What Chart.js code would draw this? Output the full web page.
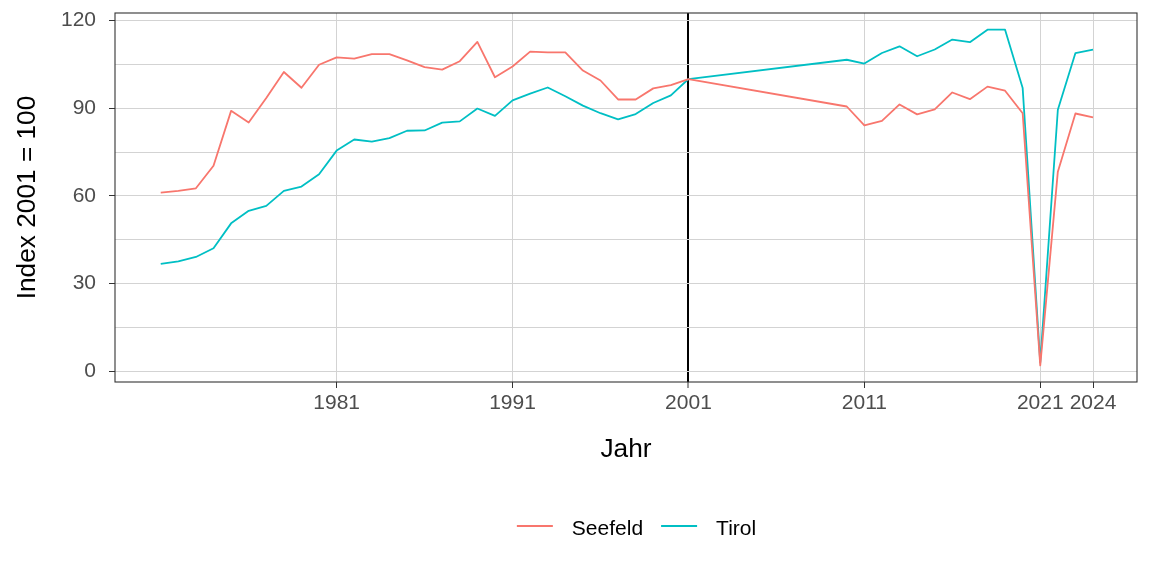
<!DOCTYPE html>
<html>
<head>
<meta charset="utf-8">
<script src="https://cdn.jsdelivr.net/npm/chart.js@4.4.1/dist/chart.umd.min.js"></script>
<style>
html,body{margin:0;padding:0;background:#ffffff;}
#wrap{width:1152px;height:576px;position:relative;}
</style>
</head>
<body>
<div id="wrap"><canvas id="c"></canvas></div>
<script>
// ---- data ----
const years = [1971,1972,1973,1974,1975,1976,1977,1978,1979,1980,
               1981,1982,1983,1984,1985,1986,1987,1988,1989,1990,
               1991,1992,1993,1994,1995,1996,1997,1998,1999,2000,2001,
               2010,2011,2012,2013,2014,2015,2016,2017,2018,2019,2020,2021,2022,2023,2024];
const seefeld = [61.1,61.7,62.6,70.3,89.1,85.1,93.5,102.4,97.0,104.9,
                 107.4,107.0,108.5,108.5,106.4,104.1,103.2,106.1,112.7,100.6,
                 104.3,109.4,109.1,109.1,102.9,99.5,93.0,93.0,96.8,97.9,100,
                 90.6,84.1,85.7,91.3,87.9,89.6,95.4,93.1,97.4,96.0,88.3,2.0,68.3,88.2,86.9];
const tirol = [36.7,37.6,39.1,42.1,50.6,54.9,56.6,61.7,63.2,67.4,
               75.5,79.3,78.6,79.8,82.3,82.4,85.1,85.5,89.9,87.4,
               92.7,95.0,97.1,94.1,90.9,88.3,86.2,88.0,91.8,94.4,100,
               106.6,105.3,108.9,111.2,107.8,110.1,113.5,112.6,116.9,116.9,96.9,3.0,89.5,108.9,110.1];
const seriesNames = ['Seefeld','Tirol'];
const xTicks = [1981,1991,2001,2011,2021,2024];
const yMajorTicks = [0,30,60,90,120];
const yMinorTicks = [15,45,75,105];
const refYear = 2001;
const xTitle = 'Jahr';
const yTitle = 'Index 2001 = 100';

// ---- styling ----
const FONT = "'Liberation Sans', Arial, Helvetica, sans-serif";
const colors = ['#F8766D', '#00BFC4'];
const gridColor = '#d3d3d3';
const darkGrey = '#333333';
Chart.defaults.font.family = FONT;

const toPoints = (vals) => years.map((y, i) => ({x: y, y: vals[i]}));

const panelBorder = {
  id: 'panelBorder',
  afterDatasetsDraw(chart) {
    const {ctx, chartArea: a} = chart;
    ctx.save();
    ctx.strokeStyle = darkGrey;
    ctx.lineWidth = 1.1;
    ctx.strokeRect(a.left, a.top, a.right - a.left, a.bottom - a.top);
    ctx.restore();
  }
};

const bottomLegend = {
  id: 'bottomLegend',
  afterDraw(chart) {
    const ctx = chart.ctx;
    const ds = chart.data.datasets;
    ctx.save();
    ctx.font = '21px ' + FONT;
    const keyW = 36, keyGap = 19, itemGap = 18;
    let total = 0;
    ds.forEach((d, i) => {
      total += keyW + keyGap + ctx.measureText(d.label).width;
      if (i < ds.length - 1) total += itemGap;
    });
    const cx = (chart.chartArea.left + chart.chartArea.right) / 2 + 10.5;
    let x = cx - total / 2;
    const lineY = 526, textY = 535;
    ds.forEach((d) => {
      ctx.strokeStyle = d.borderColor;
      ctx.lineWidth = 1.8;
      ctx.beginPath();
      ctx.moveTo(x, lineY);
      ctx.lineTo(x + keyW, lineY);
      ctx.stroke();
      x += keyW + keyGap;
      ctx.fillStyle = '#000000';
      ctx.textAlign = 'left';
      ctx.textBaseline = 'alphabetic';
      ctx.fillText(d.label, x, textY);
      x += ctx.measureText(d.label).width + itemGap;
    });
    ctx.restore();
  }
};

new Chart(document.getElementById('c'), {
  type: 'line',
  data: {
    datasets: [
      {label: seriesNames[0], data: toPoints(seefeld), borderColor: colors[0], backgroundColor: colors[0]},
      {label: seriesNames[1], data: toPoints(tirol), borderColor: colors[1], backgroundColor: colors[1]}
    ]
  },
  options: {
    responsive: true,
    maintainAspectRatio: false,
    animation: false,
    layout: {padding: {left: 0, right: 15, top: 13, bottom: 0}},
    elements: {
      line: {borderWidth: 1.8, tension: 0, borderJoinStyle: 'round', fill: false},
      point: {radius: 0, hoverRadius: 0}
    },
    plugins: {
      legend: {display: false},
      tooltip: {enabled: false},
      title: {display: false}
    },
    scales: {
      x: {
        type: 'linear',
        min: 1968.4,
        max: 2026.5,
        afterBuildTicks(scale) { scale.ticks = xTicks.map(v => ({value: v})); },
        afterFit(scale) { scale.height = 194; scale.paddingLeft = 0; scale.paddingRight = 0; },
        ticks: {
          autoSkip: false,
          maxRotation: 0,
          padding: 3,
          color: '#4d4d4d',
          font: {size: 21},
          callback: (v) => String(v)
        },
        grid: {
          color: (c) => (c.tick && c.tick.value === refYear) ? '#000000' : gridColor,
          lineWidth: (c) => (c.tick && c.tick.value === refYear) ? 2 : 1,
          tickColor: darkGrey,
          tickLength: 6,
          tickWidth: 1,
          drawTicks: true
        },
        border: {display: false},
        title: {
          display: true,
          text: xTitle,
          color: '#000000',
          font: {size: 26.25},
          padding: {top: 0, bottom: 110}
        }
      },
      y: {
        type: 'linear',
        min: -3.7,
        max: 122.6,
        afterBuildTicks(scale) {
          scale.ticks = yMajorTicks.concat(yMinorTicks).sort((a, b) => a - b).map(v => ({value: v}));
        },
        afterFit(scale) { scale.width = 115; scale.paddingTop = 0; scale.paddingBottom = 0; },
        ticks: {
          autoSkip: false,
          padding: 13,
          color: '#4d4d4d',
          font: {size: 21},
          callback: (v) => yMajorTicks.includes(v) ? String(v) : ''
        },
        grid: {
          color: gridColor,
          lineWidth: 1,
          tickColor: (c) => (c.tick && yMajorTicks.includes(c.tick.value)) ? darkGrey : 'rgba(0,0,0,0)',
          tickLength: 6,
          tickWidth: 1,
          drawTicks: true
        },
        border: {display: false},
        title: {
          display: true,
          text: yTitle,
          color: '#000000',
          font: {size: 26.25},
          padding: {top: 12, bottom: 0}
        }
      }
    }
  },
  plugins: [panelBorder, bottomLegend]
});
</script>
</body>
</html>
